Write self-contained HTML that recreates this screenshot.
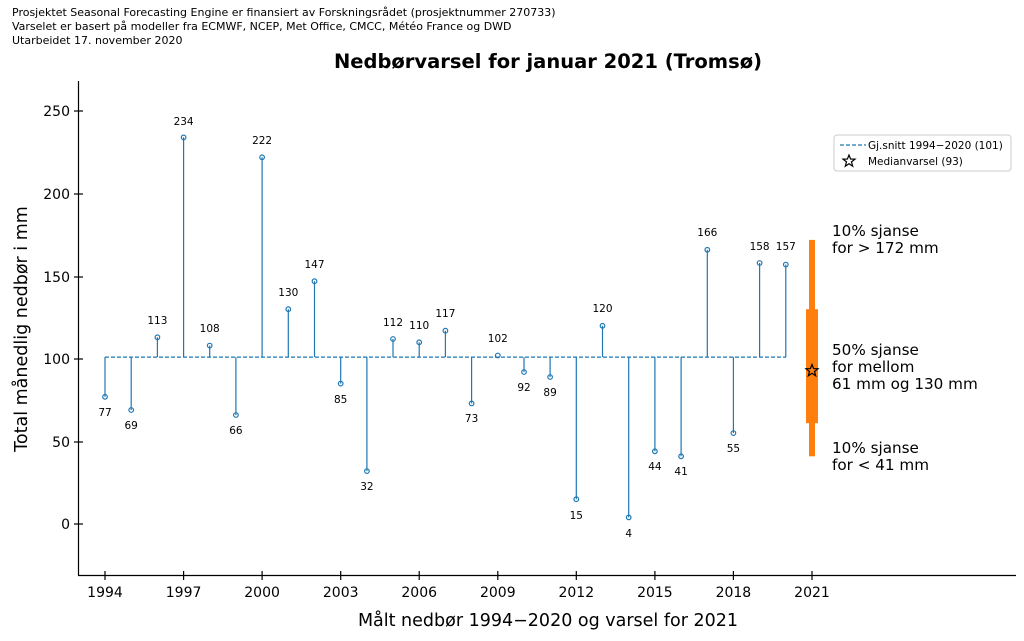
<!DOCTYPE html><html><head><style>body{margin:0;background:#fff}svg{display:block}text{font-family:"DejaVu Sans","Liberation Sans",sans-serif}</style></head><body>
<svg width="1024" height="641" xmlns="http://www.w3.org/2000/svg">
<g font-size="11" fill="#000"><text x="12" y="16">Prosjektet Seasonal Forecasting Engine er finansiert av Forskningsrådet (prosjektnummer 270733)</text><text x="12" y="30">Varselet er basert på modeller fra ECMWF, NCEP, Met Office, CMCC, Météo France og DWD</text><text x="12" y="44">Utarbeidet 17. november 2020</text></g>
<text x="548" y="68" font-size="19.5" font-weight="bold" text-anchor="middle">Nedbørvarsel for januar 2021 (Tromsø)</text>
<line x1="105" y1="357.1" x2="786" y2="357.1" stroke="#1f77b4" stroke-dasharray="4,2" stroke-width="1.2"/>
<g stroke="#1f77b4" stroke-width="1.2">
<line x1="105" y1="357.1" x2="105" y2="396.8"/><line x1="131.2" y1="357.1" x2="131.2" y2="410"/><line x1="157.4" y1="357.1" x2="157.4" y2="337.3"/><line x1="183.6" y1="357.1" x2="183.6" y2="137.4"/><line x1="209.7" y1="357.1" x2="209.7" y2="345.6"/><line x1="235.9" y1="357.1" x2="235.9" y2="415"/><line x1="262.1" y1="357.1" x2="262.1" y2="157.3"/><line x1="288.3" y1="357.1" x2="288.3" y2="309.2"/><line x1="314.5" y1="357.1" x2="314.5" y2="281.2"/><line x1="340.7" y1="357.1" x2="340.7" y2="383.6"/><line x1="366.9" y1="357.1" x2="366.9" y2="471.1"/><line x1="393" y1="357.1" x2="393" y2="339"/><line x1="419.2" y1="357.1" x2="419.2" y2="342.3"/><line x1="445.4" y1="357.1" x2="445.4" y2="330.7"/><line x1="471.6" y1="357.1" x2="471.6" y2="403.4"/><line x1="524" y1="357.1" x2="524" y2="372"/><line x1="550.1" y1="357.1" x2="550.1" y2="377"/><line x1="576.3" y1="357.1" x2="576.3" y2="499.2"/><line x1="602.5" y1="357.1" x2="602.5" y2="325.8"/><line x1="628.7" y1="357.1" x2="628.7" y2="517.4"/><line x1="654.9" y1="357.1" x2="654.9" y2="451.3"/><line x1="681.1" y1="357.1" x2="681.1" y2="456.3"/><line x1="707.3" y1="357.1" x2="707.3" y2="249.8"/><line x1="733.4" y1="357.1" x2="733.4" y2="433.1"/><line x1="759.6" y1="357.1" x2="759.6" y2="263"/><line x1="785.8" y1="357.1" x2="785.8" y2="264.6"/>
</g>
<g stroke="#1f77b4" fill="none" stroke-width="1.2">
<circle cx="105" cy="396.8" r="2.3"/><circle cx="131.2" cy="410" r="2.3"/><circle cx="157.4" cy="337.3" r="2.3"/><circle cx="183.6" cy="137.4" r="2.3"/><circle cx="209.7" cy="345.6" r="2.3"/><circle cx="235.9" cy="415" r="2.3"/><circle cx="262.1" cy="157.3" r="2.3"/><circle cx="288.3" cy="309.2" r="2.3"/><circle cx="314.5" cy="281.2" r="2.3"/><circle cx="340.7" cy="383.6" r="2.3"/><circle cx="366.9" cy="471.1" r="2.3"/><circle cx="393" cy="339" r="2.3"/><circle cx="419.2" cy="342.3" r="2.3"/><circle cx="445.4" cy="330.7" r="2.3"/><circle cx="471.6" cy="403.4" r="2.3"/><circle cx="497.8" cy="355.5" r="2.3"/><circle cx="524" cy="372" r="2.3"/><circle cx="550.1" cy="377" r="2.3"/><circle cx="576.3" cy="499.2" r="2.3"/><circle cx="602.5" cy="325.8" r="2.3"/><circle cx="628.7" cy="517.4" r="2.3"/><circle cx="654.9" cy="451.3" r="2.3"/><circle cx="681.1" cy="456.3" r="2.3"/><circle cx="707.3" cy="249.8" r="2.3"/><circle cx="733.4" cy="433.1" r="2.3"/><circle cx="759.6" cy="263" r="2.3"/><circle cx="785.8" cy="264.6" r="2.3"/>
</g>
<g font-size="10.5" text-anchor="middle">
<text x="105" y="416">77</text><text x="131.2" y="429">69</text><text x="157.4" y="324">113</text><text x="183.6" y="125">234</text><text x="209.7" y="332">108</text><text x="235.9" y="434">66</text><text x="262.1" y="144">222</text><text x="288.3" y="296">130</text><text x="314.5" y="268">147</text><text x="340.7" y="403">85</text><text x="366.9" y="490">32</text><text x="393" y="326">112</text><text x="419.2" y="329">110</text><text x="445.4" y="317">117</text><text x="471.6" y="422">73</text><text x="497.8" y="342">102</text><text x="524" y="391">92</text><text x="550.1" y="396">89</text><text x="576.3" y="519">15</text><text x="602.5" y="312">120</text><text x="628.7" y="537">4</text><text x="654.9" y="470">44</text><text x="681.1" y="475">41</text><text x="707.3" y="236">166</text><text x="733.4" y="452">55</text><text x="759.6" y="250">158</text><text x="785.8" y="250">157</text>
</g>
<rect x="809" y="239.9" width="6" height="216.4" fill="#ff7f0e"/>
<rect x="806" y="309.2" width="12" height="114" fill="#ff7f0e"/>
<polygon points="812,364.5 813.6,368.6 818,368.8 814.5,371.5 815.7,375.8 812,373.3 808.3,375.8 809.5,371.5 806,368.8 810.4,368.6" fill="none" stroke="#000" stroke-width="1.2"/>
<g font-size="15.2"><text x="832" y="236">10% sjanse</text><text x="832" y="253">for &gt; 172 mm</text><text x="832" y="355">50% sjanse</text><text x="832" y="372">for mellom</text><text x="832" y="389">61 mm og 130 mm</text><text x="832" y="453">10% sjanse</text><text x="832" y="470">for &lt; 41 mm</text></g>
<g stroke="#000" stroke-width="1.2"><line x1="78.5" y1="81" x2="78.5" y2="575.5"/><line x1="78" y1="575.5" x2="1016" y2="575.5"/>
<line x1="74" y1="111" x2="83" y2="111"/><line x1="74" y1="194" x2="83" y2="194"/><line x1="74" y1="277" x2="83" y2="277"/><line x1="74" y1="359" x2="83" y2="359"/><line x1="74" y1="442" x2="83" y2="442"/><line x1="74" y1="524" x2="83" y2="524"/>
<line x1="105" y1="571" x2="105" y2="580"/><line x1="183.6" y1="571" x2="183.6" y2="580"/><line x1="262.1" y1="571" x2="262.1" y2="580"/><line x1="340.7" y1="571" x2="340.7" y2="580"/><line x1="419.2" y1="571" x2="419.2" y2="580"/><line x1="497.8" y1="571" x2="497.8" y2="580"/><line x1="576.3" y1="571" x2="576.3" y2="580"/><line x1="654.9" y1="571" x2="654.9" y2="580"/><line x1="733.4" y1="571" x2="733.4" y2="580"/><line x1="812" y1="571" x2="812" y2="580"/></g>
<g font-size="14" text-anchor="end"><text x="70" y="116">250</text><text x="70" y="199">200</text><text x="70" y="282">150</text><text x="70" y="364">100</text><text x="70" y="447">50</text><text x="70" y="529">0</text></g>
<g font-size="14" text-anchor="middle"><text x="105" y="597">1994</text><text x="183.6" y="597">1997</text><text x="262.1" y="597">2000</text><text x="340.7" y="597">2003</text><text x="419.2" y="597">2006</text><text x="497.8" y="597">2009</text><text x="576.3" y="597">2012</text><text x="654.9" y="597">2015</text><text x="733.4" y="597">2018</text><text x="812" y="597">2021</text></g>
<text x="548" y="626" font-size="17.5" text-anchor="middle">Målt nedbør 1994−2020 og varsel for 2021</text>
<text transform="translate(27,329) rotate(-90)" font-size="17.5" text-anchor="middle">Total månedlig nedbør i mm</text>
<rect x="834" y="135" width="177" height="36" rx="3" fill="#fff" stroke="#ccc"/>
<line x1="840" y1="145" x2="866" y2="145" stroke="#1f77b4" stroke-dasharray="4,2" stroke-width="1.2"/>
<polygon points="849,155 850.6,159 855,159.2 851.5,161.9 852.7,166.2 849,163.7 845.3,166.2 846.5,161.9 843,159.2 847.4,159" fill="none" stroke="#000" stroke-width="1.2"/>
<g font-size="10.5"><text x="868" y="149">Gj.snitt 1994−2020 (101)</text><text x="868" y="165">Medianvarsel (93)</text></g>
</svg></body></html>
